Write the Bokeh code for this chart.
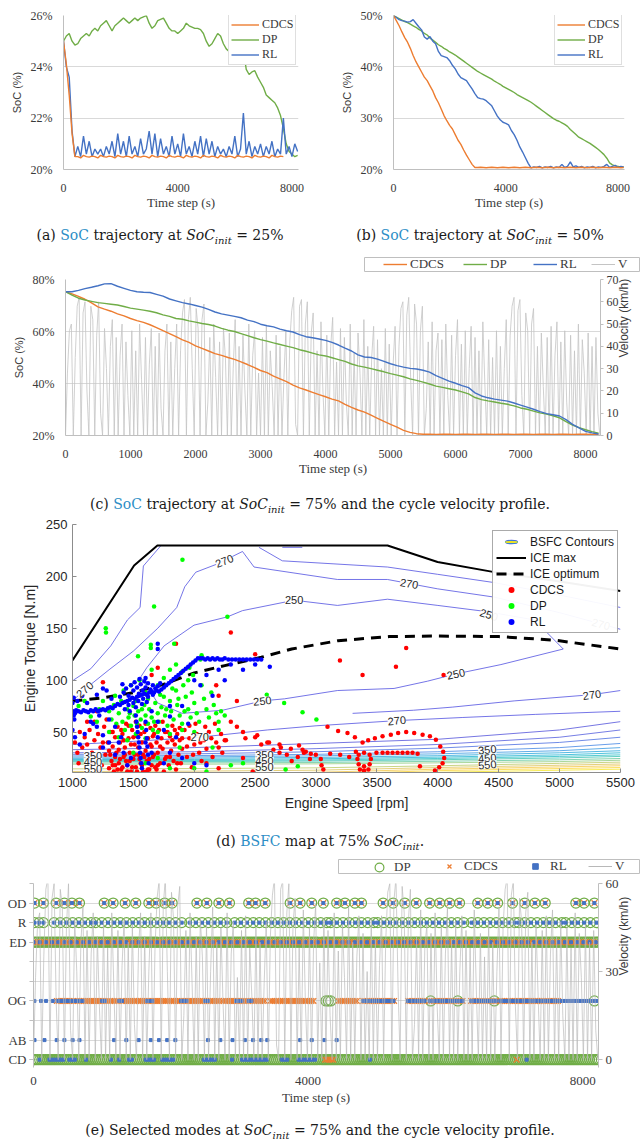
import numpy as np
from bokeh.plotting import figure
from bokeh.models import (Range1d, LinearAxis, FixedTicker, Legend, LegendItem, Div,
                          ColumnDataSource, LabelSet)
from bokeh.layouts import column, row
from bokeh.embed import file_html
from bokeh.resources import INLINE
from bokeh.core.properties import value

# ============================ DATA ============================
# SoC trajectories, one value every 100 s (0 ... 8200 s)
T_SOC = list(range(0, 8300, 100))

SOC25_DP = [25.0, 25.2, 25.3, 25.0, 24.85, 24.9, 25.1, 25.2, 25.3, 25.2,
            25.4, 25.5, 25.4, 25.6, 25.7, 25.8, 25.6, 25.4, 25.6, 25.7,
            25.8, 25.9, 25.8, 25.7, 25.8, 25.9, 25.8, 25.9, 25.95, 26.0,
            25.7, 25.5, 25.6, 25.8, 25.85, 25.9, 25.7, 25.5, 25.4, 25.4,
            25.3, 25.4, 25.5, 25.7, 25.6, 25.55, 25.5, 25.5, 25.45, 25.3,
            25.0, 24.8, 24.9, 25.1, 25.3, 25.2, 24.9, 24.7, 24.6, 24.5,
            24.4, 24.35, 24.35, 24.65, 23.9, 23.7, 23.8, 23.85, 23.6, 23.4,
            23.2, 22.9, 22.8, 22.7, 22.6, 22.4, 22.1, 21.6, 21.0, 20.7,
            20.6, 20.5, 20.55]
SOC25_RL = [25.0, 24.0, 23.6, 21.5, 20.5, 20.9, 20.5, 21.3, 20.6, 21.1,
            20.5, 20.8, 20.6, 20.8, 20.5, 20.9, 20.6, 21.1, 20.5, 21.4,
            20.6, 21.1, 20.5, 21.3, 20.6, 20.9, 20.5, 21.2, 20.6, 20.8,
            21.5, 20.6, 21.4, 20.5, 21.2, 20.6, 20.9, 20.5, 21.3, 20.6,
            21.0, 20.5, 21.4, 20.6, 20.9, 20.5, 21.1, 20.6, 21.3, 20.5,
            21.2, 20.6, 21.1, 20.5, 20.9, 20.6, 20.8, 20.5, 20.9, 20.6,
            21.3, 20.5, 20.8, 22.2, 20.6, 21.1, 20.5, 20.9, 20.6, 21.0,
            20.5, 20.9, 20.6, 21.1, 20.5, 20.8, 20.6, 22.0, 20.6, 20.9,
            20.5, 21.0, 20.7]
SOC25_CDCS = [25.0, 24.1, 22.9, 21.4, 20.5,
              20.5, 20.45, 20.55, 20.5, 20.48, 20.52, 20.5, 20.45, 20.55, 20.5,
              20.48, 20.52, 20.5, 20.45, 20.55, 20.5, 20.48, 20.52, 20.5, 20.45,
              20.55, 20.5, 20.48, 20.52, 20.5, 20.45, 20.55, 20.5, 20.48, 20.52,
              20.5, 20.45, 20.55, 20.5, 20.48, 20.52, 20.5, 20.45, 20.55, 20.5,
              20.48, 20.52, 20.5, 20.45, 20.55, 20.5, 20.48, 20.52, 20.5, 20.45,
              20.55, 20.5, 20.48, 20.52, 20.5, 20.45, 20.55, 20.5, 20.48, 20.52,
              20.5, 20.45, 20.55, 20.5, 20.48, 20.52, 20.5, 20.45, 20.55, 20.5,
              20.48, 20.52, 20.5]

SOC50_CDCS = [50.0, 49.0, 48.0, 46.8, 45.7, 44.8, 43.6, 42.2, 41.0, 40.0,
              39.0, 38.0, 37.3, 36.3, 35.3, 34.0, 33.0, 31.8, 30.5, 29.5,
              28.6, 27.9, 26.8, 25.7, 24.9, 23.8, 22.8, 21.9, 21.0, 20.4,
              20.4, 20.45, 20.4, 20.35, 20.4, 20.45, 20.4, 20.35, 20.4, 20.45,
              20.4, 20.35, 20.4, 20.45, 20.4, 20.35, 20.4, 20.45, 20.4, 20.35,
              20.4, 20.45, 20.4, 20.35, 20.4, 20.45, 20.4, 20.35, 20.4, 20.45,
              20.4, 20.35, 20.4, 20.45, 20.4, 20.35, 20.4, 20.45, 20.4, 20.35,
              20.4, 20.45, 20.4, 20.35, 20.4, 20.45, 20.4, 20.35, 20.4, 20.45,
              20.4, 20.35, 20.4]
SOC50_DP = [50.0, 49.7, 49.4, 49.1, 48.8, 48.6, 48.3, 48.0, 47.7, 47.3,
            47.0, 46.5, 46.2, 45.6, 45.2, 44.8, 44.3, 44.0, 43.6, 43.3,
            42.9, 42.6, 42.3, 41.9, 41.5, 41.1, 40.7, 40.3, 39.9, 39.5,
            39.1, 38.8, 38.5, 38.2, 37.9, 37.6, 37.2, 36.9, 36.6, 36.2,
            35.9, 35.6, 35.3, 35.0, 34.6, 34.3, 34.0, 33.7, 33.4, 33.1,
            32.7, 32.3, 31.9, 31.5, 31.1, 30.7, 30.3, 29.9, 29.6, 29.4,
            29.1, 28.8, 28.4, 27.8, 27.3, 26.8, 26.3, 26.0, 25.7, 25.4,
            25.1, 24.7, 24.3, 23.9, 23.4, 22.9, 22.2, 21.3, 20.9, 20.7,
            20.6, 20.5, 20.5]
SOC50_RL = [50.0, 49.6, 49.2, 49.0, 48.9, 48.7, 48.8, 49.2, 48.5, 47.8,
            47.2, 45.8, 45.4, 45.9, 45.0, 44.5, 43.0, 42.2, 42.0, 41.8,
            41.2, 40.3, 39.6, 38.6, 37.9, 37.6, 37.3, 36.5, 35.7, 34.8,
            34.0, 33.8, 33.7, 33.4, 32.9, 32.4, 31.4, 30.4, 29.7, 29.2,
            29.0, 28.7, 27.6, 26.8, 25.7, 24.4, 23.4, 22.3, 21.2, 20.3,
            20.5, 20.4, 20.6, 20.3, 20.5, 20.4, 20.6, 20.3, 20.5, 20.4,
            21.0, 20.4, 20.6, 21.5, 20.5, 20.7, 20.4, 20.6, 20.3, 20.5,
            20.4, 20.6, 20.3, 20.5, 20.4, 20.6, 21.0, 20.4, 20.6, 20.8,
            20.4, 20.6, 20.5]

SOC75_CDCS = [75.3, 74.5, 73.5, 72.4, 71.0, 69.5, 68.6, 67.8, 66.8, 66.0,
              65.0, 64.2, 63.5, 62.6, 61.5, 60.3, 59.2, 58.0, 56.8, 55.8,
              54.5, 53.5, 52.5, 51.5, 50.8, 50.0, 49.3, 48.3, 47.3, 46.2,
              45.0, 44.2, 42.8, 41.8, 40.7, 39.4, 38.3, 37.5, 36.6, 35.7,
              34.9, 34.0, 33.3, 32.0, 30.8, 29.8, 29.0, 27.8, 26.6, 25.4,
              24.3, 23.2, 22.0, 21.2, 20.7,
              20.5, 20.5, 20.45, 20.5, 20.5, 20.45, 20.5, 20.5, 20.45, 20.5,
              20.5, 20.45, 20.5, 20.5, 20.45, 20.5, 20.5, 20.45, 20.5, 20.5,
              20.45, 20.5, 20.5, 20.45, 20.5, 20.5, 20.45, 20.4]
SOC75_DP = [75.3, 74.0, 72.8, 72.1, 71.6, 71.1, 70.8, 70.5, 70.2, 69.6,
            69.0, 68.6, 68.2, 67.8, 67.2, 66.4, 65.8, 65.0, 64.7, 64.1,
            63.6, 63.1, 62.7, 62.1, 61.2, 60.5, 60.0, 59.2, 58.4, 57.6,
            56.9, 56.3, 55.6, 55.0, 54.4, 53.8, 53.0, 52.4, 51.7, 51.0,
            50.6, 49.9, 49.2, 48.5, 47.5, 46.8, 46.3, 45.7, 45.1, 44.5,
            43.8, 43.2, 42.6, 41.8, 41.2, 40.5, 39.8, 39.0, 38.5, 38.0,
            37.5, 36.8, 36.0, 34.6, 33.8, 33.3, 32.9, 32.4, 32.0, 31.4,
            30.6, 30.1, 29.4, 28.7, 28.2, 27.6, 26.8, 25.3, 24.0, 23.0,
            22.2, 21.5, 20.9]
SOC75_RL = [75.3, 75.3, 75.8, 76.5, 77.0, 77.6, 78.3, 78.4, 77.4, 76.6,
            75.8, 75.3, 75.1, 75.0, 74.3, 73.6, 72.5, 71.8, 71.1, 70.6,
            70.0, 69.4, 68.5, 67.5, 66.8, 66.3, 65.8, 65.3, 64.4, 63.8,
            62.8, 62.2, 61.8, 60.9, 60.3, 59.8, 58.8, 58.0, 57.6, 57.1,
            56.6, 55.8, 54.8, 53.6, 52.5, 51.0, 50.2, 50.0, 49.4, 48.5,
            47.6, 46.9, 46.3, 45.8, 45.6, 45.1, 44.4, 43.0, 42.0, 40.9,
            40.1, 39.2, 38.4, 36.4, 35.2, 34.5, 34.0, 33.6, 33.2, 32.5,
            31.7, 30.9, 30.1, 29.2, 28.4, 28.0, 27.5, 26.1, 24.3, 22.9,
            21.6, 21.0, 20.6]

# Cycle velocity profile (km/h), one value every 30 s
V_T = list(range(0, 8221, 30))
V_KMH = [0, 28, 47, 50, 0, 35, 58, 62, 0, 55, 60, 20, 0, 58, 52, 0, 45, 60, 10, 0,
         48, 30, 0, 40, 52, 0, 44, 0, 36, 50, 0, 42, 18, 0, 47, 0, 38, 0, 50, 25,
         0, 44, 0, 32, 48, 0, 40, 0, 46, 12, 0, 38, 50, 0, 42, 0,
         30, 50, 0, 38, 55, 61, 0, 52, 62, 30, 0, 57, 48, 0, 52, 59, 0, 15, 44, 0,
         50, 26, 0, 42, 0, 48, 35, 0, 46, 0, 30, 52, 0, 40, 0, 45, 20, 0, 50, 0,
         36, 47, 0, 28, 0, 44, 0, 49, 0, 38, 22, 0, 45, 0, 40, 0,
         26, 47, 0, 42, 56, 62, 5, 0, 58, 61, 0, 50, 60, 0, 46, 55, 0, 38, 0, 51,
         20, 0, 45, 0, 40, 53, 0, 33, 0, 48, 0, 44, 15, 0, 50, 0, 37, 0, 46, 28,
         0, 52, 0, 40, 0, 35, 49, 0, 43, 0, 30, 0, 48, 0, 41, 0,
         32, 49, 0, 40, 57, 60, 0, 54, 62, 25, 0, 59, 50, 0, 47, 58, 0, 12, 42, 0,
         51, 0, 38, 46, 0, 43, 0, 50, 18, 0, 45, 0, 36, 52, 0, 41, 0, 47, 0, 30,
         49, 0, 44, 0, 38, 0, 51, 24, 0, 43, 0, 35, 0, 47, 0, 40,
         0, 30, 52, 0, 45, 58, 62, 0, 56, 61, 18, 0, 55, 47, 0, 50, 57, 0, 40, 0,
         46, 22, 0, 44, 0, 49, 0, 36, 51, 0, 42, 0, 47, 15, 0, 45, 0, 38, 0, 50,
         0, 43, 28, 0, 46, 0, 40, 0, 44, 10, 0]

# (d) engine map
ICE_MAX_RPM = [1000, 1506, 1697, 3587, 3998, 4464, 5000, 5500]
ICE_MAX_TQ = [119, 210.5, 229.8, 229.8, 213.8, 204.1, 195, 186]
ICE_OPT_RPM = [1000, 1250, 1500, 1750, 2000, 2250, 2550, 2800, 3180, 3600, 4000, 4500, 4960, 5500]
ICE_OPT_TQ = [80, 83, 88, 96, 107, 114, 122, 130, 138, 142, 142.5, 142, 138.5, 130]

CONTOUR_RPM = [
    [1007, 1150, 1314, 1451, 1555, 1582, 1725],
    [1000, 1120, 1300, 1500, 1700, 1856, 1922, 2012, 2190, 2396, 2491, 3176, 3587, 3998, 4464, 5000, 5500],
    [2531, 2723, 3587, 3998, 4464, 5000, 5500],
    [2723, 2887],
    [1560, 1610, 1752, 1998, 2272, 2396, 2820, 3176, 3587, 4000, 4406, 4794, 5030,
     4518, 4148, 3915, 3641, 3176, 2741, 2559, 2232, 1900, 1700, 1560],
    [1000, 1500, 2045, 2600, 3000, 3663, 4200, 4800, 5500],
    [3300, 3800, 4118, 4627, 5265, 5500],
]
CONTOUR_TQ = [
    [100, 111, 133, 158, 170, 210, 229.5],
    [80, 93, 110, 128, 150, 170, 190, 204, 212, 224, 209, 197, 197, 188, 180, 165, 149],
    [228, 215, 209, 202, 194, 182, 170],
    [228, 228],
    [103, 112, 133, 153, 161, 167, 177, 172, 178, 172, 166, 158, 130,
     115, 106, 99, 92, 90, 82, 80, 71, 68, 78, 103],
    [38, 41, 45, 52, 56, 61, 64, 67, 70],
    [68, 71, 74, 80, 86, 90],
]
BAND_RPM = [1000, 2000, 3000, 4000, 5000, 5500]
BAND_TQ = [
    [33, 35, 39, 43, 52, 60],
    [30, 31, 34, 38, 45, 52],
    [28.5, 29, 31, 34.5, 40, 45],
    [27, 27.3, 28.5, 31, 35, 39],
    [25.8, 26, 27, 29, 32, 35],
    [24.6, 24.8, 25.5, 27.2, 30, 32],
    [23.5, 23.6, 24.2, 25.8, 28, 30],
    [22.5, 22.6, 23, 24.5, 26.5, 28],
    [21.5, 21.6, 22, 23.3, 25, 26.5],
    [20.2, 20.3, 20.6, 21.8, 23.2, 24.5],
    [19, 19, 19.3, 20.3, 21.5, 22.8],
    [14.5, 14.8, 15.5, 17.5, 19.8, 21],
    [12, 12.3, 13.2, 15.8, 18, 19.2],
    [9.5, 10, 11.2, 14.2, 16.4, 17.5],
    [7, 7.8, 9.4, 12.8, 14.8, 15.8],
    [4, 5, 7.5, 11.2, 13.2, 14.2],
]
CLABEL_TEXT = ["270", "270", "270", "250", "250", "270", "250", "250", "270", "270", "270",
               "350", "450", "550", "350", "450", "550", "350", "450", "550"]
CLABEL_RPM = [1101, 2247, 3765, 2820, 4420, 5340, 2559, 4148, 3663, 2045, 5265,
              1168, 1168, 1168, 2576, 2576, 2576, 4406, 4406, 4406]
CLABEL_TQ = [91, 215, 193, 177, 163, 154, 80, 106, 61, 45, 86,
             27, 21, 14.5, 27.5, 22, 16, 33, 25, 18.5]

CDCS_PTS = [
    (1100, 45), (1120, 38), (1140, 52), (1160, 30), (1180, 42), (1200, 25), (1210, 48), (1230, 35), (1240, 18), (1260, 55),
    (1270, 28), (1290, 40), (1300, 15), (1310, 50), (1320, 22), (1330, 36), (1340, 12), (1350, 45), (1360, 30), (1370, 55),
    (1380, 20), (1390, 40), (1400, 14), (1410, 48), (1420, 26), (1430, 35), (1440, 58), (1450, 18), (1460, 44), (1470, 30),
    (1480, 12), (1490, 52), (1500, 24), (1510, 38), (1520, 16), (1530, 46), (1540, 28), (1550, 56), (1560, 20), (1570, 40),
    (1580, 12), (1590, 50), (1600, 32), (1610, 22), (1620, 44), (1630, 14), (1640, 54), (1650, 36), (1660, 26), (1670, 48),
    (1680, 16), (1690, 40), (1700, 30), (1710, 52), (1720, 20), (1730, 44), (1740, 34), (1750, 12), (1760, 50), (1770, 26),
    (1780, 40), (1790, 18), (1800, 46), (1810, 32), (1820, 56), (1830, 22), (1840, 38), (1850, 14), (1860, 48), (1870, 28),
    (1880, 42), (1890, 20), (1900, 34), (1920, 52), (1940, 26), (1960, 44), (1980, 16), (2000, 38), (2020, 48), (2040, 30),
    (2060, 22), (2080, 42), (2100, 34), (2120, 50), (2150, 26), (2180, 40), (2200, 35), (2230, 30),
    (1150, 20), (1180, 60), (1220, 12), (1250, 40), (1280, 62), (1300, 32), (1330, 50), (1350, 18), (1380, 33), (1400, 52),
    (1420, 42), (1440, 22), (1460, 56), (1480, 38), (1500, 45), (1520, 60), (1540, 35), (1560, 48), (1580, 28), (1600, 58),
    (1620, 14), (1640, 38), (1660, 46), (1680, 56), (1700, 18), (1720, 36), (1740, 60), (1760, 24), (1780, 50), (1800, 26),
    (1820, 42), (1840, 52), (1860, 20), (1880, 54), (1900, 44), (1940, 36), (1960, 56), (1990, 28), (2010, 58), (2050, 40),
    (2090, 55), (2140, 44), (2170, 58), (2220, 48), (2260, 42),
    (1310, 28), (1330, 18), (1350, 26), (1370, 14), (1390, 24), (1410, 16), (1430, 28), (1450, 12), (1470, 22), (1490, 16),
    (1510, 28), (1530, 12), (1550, 24), (1570, 18), (1590, 26), (1610, 12), (1630, 24), (1650, 18), (1670, 28), (1690, 14),
    (1020, 40), (1040, 30), (1060, 50), (1080, 35), (1050, 20), (1120, 60), (1200, 70), (1250, 98), (1650, 105), (1700, 112),
    (1850, 135), (2200, 85), (2180, 95), (2300, 60), (2350, 55), (2400, 50), (2500, 45), (2550, 38), (2600, 40), (2650, 33),
    (2700, 30), (2760, 28), (2800, 22), (2850, 26), (2900, 30), (2950, 24), (2300, 146), (2500, 125), (2350, 80), (2100, 20),
    (2200, 15), (2400, 25), (2480, 12), (2580, 20), (2250, 42), (2420, 44), (2517, 47), (2614, 40), (2700, 38), (2860, 37),
    (3196, 119), (3740, 131), (3656, 113), (3382, 105), (4047, 105), (3094, 55), (3181, 51), (3258, 49), (3319, 45), (3382, 40),
    (3428, 42), (3483, 44), (3546, 46), (3614, 47.5), (3674, 49), (3740, 50), (3806, 49), (3875, 47.5), (3935, 46), (3984, 42.6),
    (4020, 36), (4044, 31), (4052, 25), (4039, 20), (4011, 16), (3976, 13), (3853, 17), (3834, 29), (3496, 30), (3546, 30),
    (3587, 30), (3628, 30), (3669, 30), (3710, 30), (3751, 30), (3792, 30), (2711, 35), (2793, 34), (2889, 33), (2916, 31),
    (2957, 29), (2998, 28), (3039, 24), (3045, 18), (3060, 14), (3116, 29), (3198, 28), (3272, 26), (3327, 31),
    (3394, 30), (3440, 28), (3450, 24), (3440, 19), (3394, 17), (3350, 19), (3340, 24), (3350, 28), (3394, 13), (3394, 11.5),
    (3360, 14), (3430, 14),
]
DP_PTS = [
    (1273, 150), (1275, 146), (1903, 216), (1670, 171), (2272, 161), (1538, 123), (1643, 134), (1643, 131), (1835, 135),
    (2595, 86), (2738, 78), (2889, 69), (3003, 62), (2050, 120), (2060, 124), (1950, 100), (1960, 112), (1990, 105),
    (1300, 70), (1320, 62), (1340, 76), (1360, 58), (1380, 68), (1400, 80), (1410, 60), (1430, 52), (1450, 72), (1460, 64),
    (1480, 56), (1500, 75), (1510, 66), (1530, 58), (1540, 70), (1560, 62), (1570, 54), (1590, 76), (1600, 66), (1620, 58),
    (1630, 72), (1650, 64), (1660, 52), (1680, 78), (1700, 68), (1710, 60), (1730, 74), (1750, 84), (1760, 66), (1780, 56),
    (1800, 80), (1810, 70), (1830, 62), (1850, 90), (1860, 76), (1880, 66), (1900, 58), (1910, 95), (1930, 84), (1950, 72),
    (1970, 64), (1980, 88), (2000, 78), (2020, 68), (2040, 60), (2060, 95), (2080, 82), (2100, 72), (2120, 64), (2140, 88),
    (2160, 76), (2180, 68), (2200, 60), (2220, 70), (2250, 66), (1350, 85), (1420, 90), (1480, 95), (1550, 100), (1600, 88),
    (1700, 95), (1750, 102), (1800, 110), (1650, 110), (1850, 115), (1900, 108), (1300, 50), (1380, 45), (1450, 42),
    (1520, 48), (1600, 44), (1700, 50), (1800, 48), (1900, 52), (2000, 50), (2100, 46), (2200, 52), (1250, 80), (1220, 72),
    (1200, 60), (1150, 65), (1100, 80), (1050, 75), (1500, 30), (1700, 25), (2000, 15), (2100, 12), (2300, 18), (2400, 20),
    (2550, 15), (2750, 14), (2850, 17), (1600, 20), (1800, 15), (1880, 35), (2150, 35),
    (1470, 68), (1520, 80), (1570, 72), (1620, 82), (1670, 60), (1720, 86), (1770, 72), (1820, 92), (1870, 82), (1920, 70),
]
RL_PTS = [
    (1005, 70), (1010, 66), (1015, 62), (1020, 68), (1030, 71), (1050, 70), (1070, 69), (1090, 71), (1110, 70), (1130, 69),
    (1150, 71), (1170, 70), (1190, 72), (1210, 70), (1230, 71), (1250, 72), (1270, 71), (1290, 73), (1310, 74), (1330, 73),
    (1350, 75), (1370, 77), (1390, 76), (1410, 78), (1430, 79), (1450, 80), (1470, 81), (1490, 83), (1510, 82), (1530, 84),
    (1550, 85), (1570, 86), (1590, 87), (1610, 86), (1630, 88), (1650, 89), (1670, 88), (1690, 90), (1710, 89), (1730, 91),
    (1750, 93), (1770, 95), (1790, 97), (1810, 99), (1830, 101), (1850, 103), (1870, 105), (1890, 107), (1910, 109),
    (1930, 111), (1950, 113), (1970, 115), (1990, 117), (2010, 119), (2030, 121),
    (2050, 121), (2070, 121), (2090, 120), (2110, 121), (2130, 120), (2150, 121), (2170, 120), (2190, 121), (2210, 120),
    (2230, 120), (2250, 121), (2280, 120), (2310, 120), (2340, 120), (2370, 120), (2400, 120), (2430, 120), (2460, 120),
    (2490, 120), (2520, 120), (2550, 120),
    (1420, 88), (1440, 92), (1460, 85), (1480, 95), (1500, 90), (1510, 98), (1530, 93), (1545, 87), (1560, 96), (1575, 90),
    (1590, 99), (1600, 93), (1620, 97), (1640, 91), (1660, 95), (1680, 92), (1460, 76), (1500, 78), (1540, 80), (1580, 82),
    (1620, 84), (1660, 86), (1430, 72), (1470, 70), (1520, 74), (1570, 77), (1610, 79), (1700, 94), (1720, 97), (1390, 84),
    (1410, 96), (1550, 101), (1600, 102),
    (1520, 66), (1525, 60), (1530, 55), (1535, 50), (1540, 45), (1545, 40), (1550, 35), (1555, 30), (1560, 25), (1565, 20),
    (1570, 15), (1600, 60), (1605, 52), (1610, 44), (1615, 36), (1620, 28), (1625, 20),
    (1000, 52), (1020, 45), (1060, 38), (1100, 48), (1150, 60), (1200, 55), (1250, 47), (1300, 62), (1350, 55), (1380, 40),
    (1420, 30), (1450, 18), (1480, 25), (1650, 70), (1700, 60), (1750, 52), (1800, 65), (1850, 45), (1900, 75), (1950, 58),
    (2000, 100), (2050, 95), (2100, 105), (2150, 85), (2200, 110), (2250, 100), (2300, 115), (2400, 110), (2500, 115),
    (2620, 113), (1700, 130), (1700, 135), (1800, 75), (1900, 25), (2000, 20), (2100, 18), (1280, 90), (1320, 82),
    (1040, 80), (1080, 85), (1120, 78), (1200, 86), (1250, 92), (1220, 66), (1170, 58), (1000, 78), (1010, 83), (1250, 35),
    (1300, 40), (1350, 28), (1400, 45), (1600, 40), (1650, 30), (1700, 45), (1750, 20), (1800, 30),
]

# (e) selected modes: level of each mode on the left axis
MODE_TICKS = [0, 1, 3, 6, 7, 8]
MODE_NAMES = ["CD", "AB", "OG", "ED", "R", "OD"]
# events (s) and active intervals [start, end] (s)
OD_T = [15, 145, 330, 450, 560, 670, 1030, 1160, 1335, 1490, 1680, 1785, 1910, 2020, 2380, 2525,
        2700, 2855, 3135, 3235, 3376, 3739, 3884, 4053, 4222, 4416, 4537, 4682, 4778, 5093, 5238,
        5408, 5576, 5770, 5916, 6061, 6206, 6471, 6617, 6761, 6978, 7156, 7304, 7454, 7900, 8020, 8170]
AB_T = [15, 160, 338, 450, 570, 670, 1174, 1352, 1531, 1709, 1828, 1947, 2066, 2542, 2721, 2899,
        3079, 3198, 3317, 3405, 3884, 4053, 4237, 4416]
R_SEG = [(15, 15), (80, 80), (145, 145), (300, 876), (905, 1590), (1619, 2216), (2275, 2870),
         (2930, 3614), (3643, 4299), (4328, 4983), (5013, 5698), (5727, 6352), (6381, 7037),
         (7066, 7722), (7751, 8220)]
ED_SEG = [(0, 8220)]
CD_DP_SEG = [(0, 8220)]
CD_RL_SEG = [(87, 87), (232, 450), (522, 620), (765, 765), (1127, 1127), (1248, 1248), (1393, 1465),
             (1635, 1780), (1876, 2070), (2481, 2650), (2892, 2892), (3037, 3400), (3617, 3714),
             (3860, 4102), (4900, 4900), (7183, 7183)]
CD_CDCS_SEG = [(4247, 4392), (7037, 7037)]
OG_RL_SEG = [(13, 13), (110, 110), (183, 183), (280, 280), (353, 740), (1000, 1060), (1250, 1300),
             (1650, 1750), (2150, 2250), (2500, 2560), (2950, 3050), (3134, 3200), (4803, 5263),
             (5456, 5721), (5770, 6278), (6374, 6761), (6800, 8220)]
OG_CDCS_SEG = [(340, 1250), (1290, 2700), (2740, 3376), (3449, 4102), (4440, 4730), (4803, 5263),
               (5456, 5721), (5770, 6278), (6374, 6761), (6800, 7660)]
OG_DP_T = [4260, 4295, 4330, 5785, 6180, 6713, 8170]

# ============================ STYLE ============================
ORANGE, GREEN, BLUE = "#ED7D31", "#70AD47", "#4472C4"
VGRAY = "#C4C4C4"
SERIF, SANS = "Liberation Serif", "Liberation Sans"
TXT = "#3A3A3A"
LINK = "#2C8EC6"
COMMON = dict(output_backend="svg", toolbar_location=None, frame_align=False)


def upright_label(ax):
    # secondary-axis title reads bottom-to-top, as in the reference
    if "axis_label_orientation" in ax.properties():
        ax.axis_label_orientation = np.pi / 2


def excel_axes(p, ylab):
    p.outline_line_color = None
    p.xgrid.visible = False
    p.ygrid.grid_line_color = "#D9D9D9"
    for ax in (p.xaxis[0], p.yaxis[0]):
        ax.axis_line_color = "#BFBFBF"
        ax.major_tick_line_color = None
        ax.minor_tick_line_color = None
        ax.major_label_text_font = SERIF
        ax.major_label_text_font_size = "12px"
        ax.major_label_text_color = TXT
        ax.axis_label_text_font_style = "normal"
        ax.axis_label_text_color = TXT
    p.xaxis.axis_label = "Time step (s)"
    p.xaxis.axis_label_text_font = SERIF
    p.xaxis.axis_label_text_font_size = "13px"
    p.xaxis.major_label_standoff = 8
    p.xaxis.axis_label_standoff = 0
    p.yaxis.axis_label = ylab
    p.yaxis.axis_label_text_font = SANS
    p.yaxis.axis_label_text_font_size = "11px"
    p.yaxis.major_label_standoff = 5


def soc_fig(y0, y1, yticks, left, right, dp, rl, cdcs, leg_loc):
    p = figure(width=320, height=215, x_range=Range1d(0, 8230), y_range=Range1d(y0, y1),
               min_border_left=left, min_border_right=right, min_border_top=15, min_border_bottom=46,
               **COMMON)
    excel_axes(p, "SoC (%)")
    p.xaxis.ticker = FixedTicker(ticks=[0, 4000, 8000])
    p.yaxis.ticker = FixedTicker(ticks=yticks)
    p.yaxis.major_label_overrides = {v: f"{v}%" for v in yticks}
    r_dp = p.line(T_SOC[:len(dp)], dp, color=GREEN, line_width=1.4)
    r_rl = p.line(T_SOC[:len(rl)], rl, color=BLUE, line_width=1.4)
    r_cd = p.line(T_SOC[:len(cdcs)], cdcs, color=ORANGE, line_width=1.4)
    p.add_layout(Legend(items=[("CDCS", [r_cd]), ("DP", [r_dp]), ("RL", [r_rl])], location=leg_loc,
                        glyph_width=28, glyph_height=13, label_height=13, label_standoff=3,
                        spacing=0, padding=2, margin=0, label_text_font=SERIF,
                        label_text_font_size="12px", label_text_color=TXT,
                        border_line_color="#BFBFBF", background_fill_alpha=1.0))
    return p


pa = soc_fig(20, 26, [20, 22, 24, 26], 63, 22, SOC25_DP, SOC25_RL, SOC25_CDCS, (165, 104))
pb = soc_fig(20, 50, [20, 30, 40, 50], 73, 16, SOC50_DP, SOC50_RL, SOC50_CDCS, (161, 104))


# ---------------- legend strips (boxes above (c) and (e)) ----------------
def legend_strip(height, left, top, frame_h, entries):
    s = figure(width=640, height=height, x_range=Range1d(0, 1), y_range=Range1d(0, 1),
               x_axis_location=None, y_axis_location=None,
               min_border_left=left, min_border_right=0, min_border_top=top,
               min_border_bottom=height - top - frame_h, **COMMON)
    s.grid.visible = False
    s.outline_line_color = "#BFBFBF"
    for label, kind, style, vx, gh, vy in entries:
        if kind == "line":
            r = s.line([5, 6], [5, 6], **style)
        else:
            r = s.scatter([5], [5], marker=kind, **style)
        s.add_layout(Legend(items=[(label, [r])], location=(vx, vy), glyph_width=24, glyph_height=gh,
                            label_height=12, label_standoff=3, padding=0, margin=0, spacing=0,
                            label_text_font=SERIF, label_text_font_size="13px", label_text_color=TXT,
                            border_line_color=None, background_fill_alpha=0))
    return s


strip_c = legend_strip(22, 364, 7, 15, [
    ("CDCS", "line", dict(color=ORANGE, line_width=1.4), 19, 14, 0),
    ("DP", "line", dict(color=GREEN, line_width=1.4), 99, 14, 0),
    ("RL", "line", dict(color=BLUE, line_width=1.4), 169, 14, 0),
    ("V", "line", dict(color=VGRAY, line_width=1.0), 227, 14, 0),
])
strip_e = legend_strip(22, 338, 7, 15, [
    ("DP", "circle", dict(size=10, fill_color=None, line_color=GREEN, line_width=1.2), 29, 22, -4),
    ("CDCS", "x", dict(size=7, line_color=ORANGE, line_width=1.3), 99, 14, 0),
    ("RL", "square", dict(size=4, fill_color=BLUE, line_color=BLUE), 185, 14, 0),
    ("V", "line", dict(color="#B8B8B8", line_width=1.0), 250, 14, 0),
])

# ---------------- (c) ----------------
pc = figure(width=640, height=206, x_range=Range1d(0, 8230), y_range=Range1d(20, 80),
            min_border_left=65, min_border_right=40, min_border_top=7, min_border_bottom=43, **COMMON)
excel_axes(pc, "SoC (%)")
pc.xaxis.ticker = FixedTicker(ticks=list(range(0, 8001, 1000)))
pc.yaxis.ticker = FixedTicker(ticks=[20, 40, 60, 80])
pc.yaxis.major_label_overrides = {v: f"{v}%" for v in [20, 40, 60, 80]}
pc.extra_y_ranges = {"v": Range1d(0, 70)}
axv = LinearAxis(y_range_name="v", ticker=FixedTicker(ticks=list(range(0, 71, 10))),
                 axis_label="Velocity (km/h)")
axv.axis_line_color = "#BFBFBF"
axv.major_tick_line_color = "#BFBFBF"
axv.major_tick_in = 0
axv.major_tick_out = 3
axv.minor_tick_line_color = None
axv.major_label_standoff = 3
axv.major_label_text_font = SERIF
axv.major_label_text_font_size = "12px"
axv.major_label_text_color = TXT
axv.axis_label_text_font = SANS
axv.axis_label_text_font_size = "12px"
axv.axis_label_text_font_style = "normal"
axv.axis_label_text_color = TXT
axv.axis_label_standoff = 2
upright_label(axv)
pc.add_layout(axv, "right")
pc.line(V_T[:len(V_KMH)], V_KMH, y_range_name="v", color=VGRAY, line_width=0.8)
pc.line(T_SOC[:len(SOC75_CDCS)], SOC75_CDCS, color=ORANGE, line_width=1.4)
pc.line(T_SOC[:len(SOC75_DP)], SOC75_DP, color=GREEN, line_width=1.4)
pc.line(T_SOC[:len(SOC75_RL)], SOC75_RL, color=BLUE, line_width=1.4)

# ---------------- (d) ----------------
pd = figure(width=640, height=301, x_range=Range1d(1000, 5500), y_range=Range1d(11, 250),
            min_border_left=72, min_border_right=20, min_border_top=7, min_border_bottom=46, **COMMON)
pd.outline_line_color = None
pd.grid.visible = False
for ax in (pd.xaxis[0], pd.yaxis[0]):
    ax.axis_line_color = "#8C8C8C"
    ax.major_tick_line_color = "#8C8C8C"
    ax.major_tick_in = 4
    ax.major_tick_out = 0
    ax.minor_tick_line_color = None
    ax.major_label_text_font = SANS
    ax.major_label_text_font_size = "13px"
    ax.major_label_text_color = "#262626"
    ax.axis_label_text_font = SANS
    ax.axis_label_text_font_size = "14px"
    ax.axis_label_text_font_style = "normal"
    ax.axis_label_text_color = "#262626"
    ax.major_label_standoff = 5
    ax.axis_label_standoff = 5
pd.xaxis.ticker = FixedTicker(ticks=list(range(1000, 5501, 500)))
pd.yaxis.ticker = FixedTicker(ticks=[50, 100, 150, 200, 250])
pd.xaxis.axis_label = "Engine Speed [rpm]"
pd.yaxis.axis_label = "Engine Torque [N.m]"

BAND_COLORS = ["#4B4BD9", "#4B55DC", "#4266DF", "#3A7FE2", "#2E93E0", "#1FA3D9", "#14AFD0",
               "#1FB9C2", "#33C0B0", "#5CC598", "#8EC97A", "#B8C65F", "#DCC050", "#F3C43C",
               "#FBD22A", "#F6E61E"]
pd.multi_line(xs=[BAND_RPM] * len(BAND_TQ), ys=BAND_TQ, line_color=BAND_COLORS,
              line_width=0.9, line_alpha=0.85)
pd.multi_line(xs=CONTOUR_RPM, ys=CONTOUR_TQ, line_color="#4A4ADF", line_width=0.9, line_alpha=0.85)
r_max = pd.line(ICE_MAX_RPM, ICE_MAX_TQ, color="black", line_width=2)
r_opt = pd.line(ICE_OPT_RPM, ICE_OPT_TQ, color="black", line_width=3, line_dash="10 7")
s_c = pd.scatter([p[0] for p in CDCS_PTS], [p[1] for p in CDCS_PTS], size=4.5, color="#FF0000", line_color=None)
s_d = pd.scatter([p[0] for p in DP_PTS], [p[1] for p in DP_PTS], size=4.5, color="#00FF00", line_color=None)
s_r = pd.scatter([p[0] for p in RL_PTS], [p[1] for p in RL_PTS], size=4.5, color="#0000FF", line_color=None)
CLABEL_ANGLE = [40, 22, -10, 0, -18, -15, 5, 12, 5, 0, 8, 0, 0, 0, 0, 0, 0, 5, 5, 5]
csrc = ColumnDataSource(dict(x=CLABEL_RPM, y=CLABEL_TQ, text=CLABEL_TEXT,
                             angle=[np.deg2rad(a) for a in CLABEL_ANGLE]))
pd.add_layout(LabelSet(x="x", y="y", text="text", angle="angle", source=csrc,
                       text_font=value(SANS), text_font_size="11px", text_color="#262626",
                       text_align="center", text_baseline="middle",
                       background_fill_color="white", background_fill_alpha=0.9))
# icon renderers for the "BSFC Contours" legend entry (outside the visible range)
e1 = pd.ellipse(x=[0], y=[100], width=[700], height=[22], fill_color=None, line_color="#5050E0", line_width=1.2)
e2 = pd.ellipse(x=[0], y=[100], width=[700], height=[14], fill_color=None, line_color="#22B8C8", line_width=1.2)
e3 = pd.ellipse(x=[0], y=[100], width=[700], height=[7], fill_color=None, line_color="#F0E020", line_width=1.2)
pd.add_layout(Legend(items=[LegendItem(label="BSFC Contours", renderers=[e1, e2, e3]),
                            LegendItem(label="ICE max", renderers=[r_max]),
                            LegendItem(label="ICE optimum", renderers=[r_opt]),
                            LegendItem(label="CDCS", renderers=[s_c]),
                            LegendItem(label="DP", renderers=[s_d]),
                            LegendItem(label="RL", renderers=[s_r])],
                     location=(420, 139), glyph_width=30, glyph_height=15, label_height=15,
                     label_standoff=4, spacing=1, padding=3, margin=0,
                     label_text_font=SANS, label_text_font_size="12px", label_text_color="#1A1A1A",
                     border_line_color="#555555", border_line_width=1))

# ---------------- (e) ----------------
def expand(segments, step):
    out = []
    for a, b in segments:
        out.extend(range(a, b + 1, step))
    return out


LV = dict(zip(MODE_NAMES, MODE_TICKS))
dp_t, dp_y, cd_t, cd_y, rl_t, rl_y = [], [], [], [], [], []
for t_list, lv in [(OD_T, "OD"), (expand(R_SEG, 90), "R"), (expand(ED_SEG, 30), "ED"),
                   (OG_DP_T, "OG"), (expand(CD_DP_SEG, 30), "CD")]:
    dp_t += list(t_list); dp_y += [LV[lv]] * len(t_list)
for t_list, lv in [(OD_T, "OD"), (expand(ED_SEG, 40), "ED"), (expand(OG_CDCS_SEG, 30), "OG"),
                   (expand(CD_CDCS_SEG, 30), "CD")]:
    cd_t += list(t_list); cd_y += [LV[lv]] * len(t_list)
for t_list, lv in [(OD_T, "OD"), (expand(R_SEG, 90), "R"), (expand(ED_SEG, 90), "ED"),
                   (expand(OG_RL_SEG, 40), "OG"), (AB_T, "AB"), (expand(CD_RL_SEG, 40), "CD")]:
    rl_t += list(t_list); rl_y += [LV[lv]] * len(t_list)

pe = figure(width=640, height=233, x_range=Range1d(0, 8230), y_range=Range1d(-0.4, 9),
            min_border_left=33, min_border_right=39, min_border_top=9, min_border_bottom=38, **COMMON)
pe.outline_line_color = None
pe.xgrid.visible = False
pe.ygrid.ticker = FixedTicker(ticks=list(range(10)))
pe.ygrid.grid_line_color = "#D9D9D9"
pe.extra_y_ranges = {"v": Range1d(-0.4 * 60 / 9, 60)}
pe.xaxis.ticker = FixedTicker(ticks=[0, 4000, 8000])
pe.xaxis.axis_line_color = None
pe.xaxis.major_tick_line_color = None
pe.xaxis.minor_tick_line_color = None
pe.xaxis.axis_label = "Time step (s)"
pe.xaxis.major_label_standoff = 3
pe.xaxis.axis_label_standoff = 2
pe.yaxis.ticker = FixedTicker(ticks=MODE_TICKS, minor_ticks=list(range(10)))
pe.yaxis.major_label_overrides = dict(zip(MODE_TICKS, MODE_NAMES))
pe.yaxis.axis_line_color = "#BFBFBF"
pe.yaxis.major_tick_line_color = "#BFBFBF"
pe.yaxis.minor_tick_line_color = "#BFBFBF"
pe.yaxis.major_tick_in = 0
pe.yaxis.major_tick_out = 4
pe.yaxis.minor_tick_in = 0
pe.yaxis.minor_tick_out = 4
pe.yaxis.major_label_standoff = 3
axe = LinearAxis(y_range_name="v", ticker=FixedTicker(ticks=[0, 30, 60]), axis_label="Velocity (km/h)")
axe.axis_line_color = "#BFBFBF"
axe.major_tick_line_color = "#BFBFBF"
axe.major_tick_in = 0
axe.major_tick_out = 4
axe.minor_tick_line_color = None
axe.major_label_standoff = 3
axe.axis_label_standoff = 2
pe.add_layout(axe, "right")
for ax in (pe.xaxis[0], pe.yaxis[0], axe):
    ax.major_label_text_font = SERIF
    ax.major_label_text_font_size = "13px"
    ax.major_label_text_color = TXT
    ax.axis_label_text_font = SERIF
    ax.axis_label_text_font_size = "13px"
    ax.axis_label_text_font_style = "normal"
    ax.axis_label_text_color = TXT
axe.axis_label_text_font = SANS
axe.axis_label_text_font_size = "12px"
upright_label(axe)

pe.scatter(dp_t, dp_y, marker="circle", size=10, fill_color=None, line_color=GREEN, line_width=1.2)
pe.scatter(cd_t, cd_y, marker="x", size=8, line_color=ORANGE, line_width=1.3)
pe.scatter(rl_t, rl_y, marker="square", size=3, fill_color=BLUE, line_color=BLUE)
pe.line(V_T[:len(V_KMH)], V_KMH, y_range_name="v", color="#B8B8B8", line_width=0.8, line_alpha=0.85)

# ---------------- captions ----------------
SOCI = '<i>SoC<sub style="font-size:10px;line-height:0">init</sub></i>'


def caption(html, w, h, pad_top, pad_left=0):
    style = ("font-family:'DejaVu Serif',serif;font-size:14px;color:#1a1a1a;"
             f"text-align:center;white-space:nowrap;width:{w - pad_left}px;"
             f"padding-top:{pad_top}px;padding-left:{pad_left}px;line-height:17px")
    return Div(text=f'<div style="{style}">{html}</div>', width=w, height=h, margin=(0, 0, 0, 0))


ca = caption(f'(a) <span style="color:{LINK}">SoC</span> trajectory at {SOCI} = 25%', 320, 35, 12)
cb = caption(f'(b) <span style="color:{LINK}">SoC</span> trajectory at {SOCI} = 50%', 320, 35, 12, 24)
cc = caption(f'(c) <span style="color:{LINK}">SoC</span> trajectory at {SOCI} = 75% and the cycle velocity profile.',
             640, 39, 18)
cdv = caption(f'(d) <span style="color:{LINK}">BSFC</span> map at 75% {SOCI}.', 640, 34, 15)
ce = caption(f'(e) Selected modes at {SOCI} = 75% and the cycle velocity profile.', 640, 33, 15)

layout = column(row(pa, pb), row(ca, cb), strip_c, pc, cc, pd, cdv, strip_e, pe, ce)
open("out.html", "w").write(file_html(layout, INLINE))
